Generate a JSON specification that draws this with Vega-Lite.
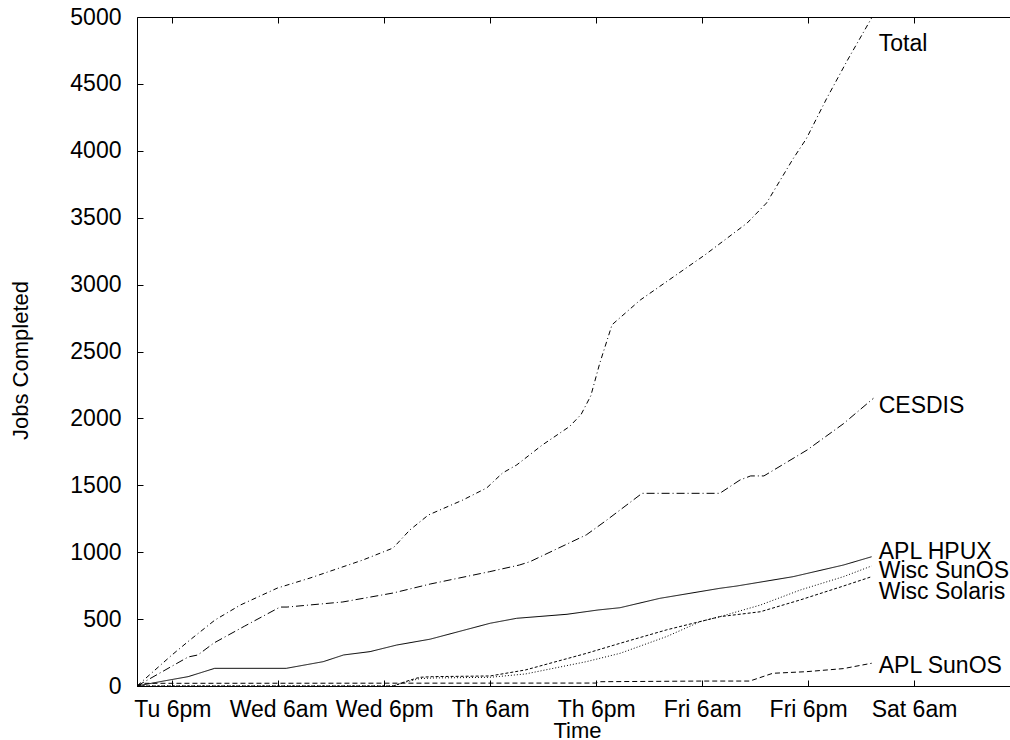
{
  "$schema": "https://vega.github.io/schema/vega-lite/v6.json",
  "width": 873,
  "height": 669,
  "autosize": {"type": "none"},
  "padding": {"left": 137, "top": 17, "right": 0, "bottom": 54},
  "background": "white",
  "config": {
    "view": {"stroke": null},
    "font": "Liberation Sans",
    "axis": {
      "domainColor": "#000",
      "tickColor": "#000",
      "labelColor": "#000",
      "titleColor": "#000",
      "labelFont": "Liberation Sans",
      "titleFont": "Liberation Sans",
      "labelFontSize": 23,
      "titleFontSize": 22,
      "titleFontWeight": "normal",
      "grid": false,
      "tickSize": -6,
      "domainWidth": 1,
      "tickWidth": 1
    }
  },
  "datasets": {
    "series": [
      {"series": "Total", "t": 0, "jobs": 0},
      {"series": "Total", "t": 3.96, "jobs": 232},
      {"series": "Total", "t": 6.0, "jobs": 344},
      {"series": "Total", "t": 8.83, "jobs": 493},
      {"series": "Total", "t": 11.7, "jobs": 605},
      {"series": "Total", "t": 15.9, "jobs": 732},
      {"series": "Total", "t": 19.6, "jobs": 807},
      {"series": "Total", "t": 25.6, "jobs": 942},
      {"series": "Total", "t": 29.0, "jobs": 1031},
      {"series": "Total", "t": 30.9, "jobs": 1166},
      {"series": "Total", "t": 33.0, "jobs": 1278},
      {"series": "Total", "t": 36.9, "jobs": 1390},
      {"series": "Total", "t": 39.6, "jobs": 1480},
      {"series": "Total", "t": 41.4, "jobs": 1592},
      {"series": "Total", "t": 43.0, "jobs": 1652},
      {"series": "Total", "t": 45.9, "jobs": 1801},
      {"series": "Total", "t": 49.0, "jobs": 1940},
      {"series": "Total", "t": 50.3, "jobs": 2030},
      {"series": "Total", "t": 51.4, "jobs": 2170},
      {"series": "Total", "t": 52.4, "jobs": 2410},
      {"series": "Total", "t": 53.8, "jobs": 2700},
      {"series": "Total", "t": 57.0, "jobs": 2885},
      {"series": "Total", "t": 64.3, "jobs": 3221},
      {"series": "Total", "t": 69.1, "jobs": 3460},
      {"series": "Total", "t": 71.3, "jobs": 3610},
      {"series": "Total", "t": 74.3, "jobs": 3940},
      {"series": "Total", "t": 75.8, "jobs": 4090},
      {"series": "Total", "t": 78.1, "jobs": 4390},
      {"series": "Total", "t": 80.4, "jobs": 4670},
      {"series": "Total", "t": 83.2, "jobs": 4993},

      {"series": "CESDIS", "t": 0, "jobs": 0},
      {"series": "CESDIS", "t": 5.8, "jobs": 217},
      {"series": "CESDIS", "t": 6.9, "jobs": 232},
      {"series": "CESDIS", "t": 8.7, "jobs": 321},
      {"series": "CESDIS", "t": 12.2, "jobs": 448},
      {"series": "CESDIS", "t": 16.2, "jobs": 590},
      {"series": "CESDIS", "t": 17.0, "jobs": 590},
      {"series": "CESDIS", "t": 23.3, "jobs": 628},
      {"series": "CESDIS", "t": 29.0, "jobs": 695},
      {"series": "CESDIS", "t": 33.2, "jobs": 762},
      {"series": "CESDIS", "t": 39.9, "jobs": 854},
      {"series": "CESDIS", "t": 43.3, "jobs": 904},
      {"series": "CESDIS", "t": 44.5, "jobs": 929},
      {"series": "CESDIS", "t": 50.9, "jobs": 1130},
      {"series": "CESDIS", "t": 53.2, "jobs": 1240},
      {"series": "CESDIS", "t": 57.2, "jobs": 1440},
      {"series": "CESDIS", "t": 66.0, "jobs": 1440},
      {"series": "CESDIS", "t": 68.3, "jobs": 1540},
      {"series": "CESDIS", "t": 69.5, "jobs": 1570},
      {"series": "CESDIS", "t": 71.0, "jobs": 1570},
      {"series": "CESDIS", "t": 75.9, "jobs": 1764},
      {"series": "CESDIS", "t": 80.0, "jobs": 1960},
      {"series": "CESDIS", "t": 83.4, "jobs": 2150},

      {"series": "APL HPUX", "t": 0, "jobs": 0},
      {"series": "APL HPUX", "t": 3.0, "jobs": 37},
      {"series": "APL HPUX", "t": 5.8, "jobs": 70},
      {"series": "APL HPUX", "t": 8.8, "jobs": 132},
      {"series": "APL HPUX", "t": 16.9, "jobs": 132},
      {"series": "APL HPUX", "t": 21.1, "jobs": 182},
      {"series": "APL HPUX", "t": 23.4, "jobs": 232},
      {"series": "APL HPUX", "t": 26.4, "jobs": 257},
      {"series": "APL HPUX", "t": 29.4, "jobs": 306},
      {"series": "APL HPUX", "t": 33.2, "jobs": 350},
      {"series": "APL HPUX", "t": 40.0, "jobs": 469},
      {"series": "APL HPUX", "t": 43.0, "jobs": 506},
      {"series": "APL HPUX", "t": 48.7, "jobs": 536},
      {"series": "APL HPUX", "t": 52.2, "jobs": 568},
      {"series": "APL HPUX", "t": 54.7, "jobs": 585},
      {"series": "APL HPUX", "t": 59.2, "jobs": 655},
      {"series": "APL HPUX", "t": 66.0, "jobs": 730},
      {"series": "APL HPUX", "t": 67.9, "jobs": 747},
      {"series": "APL HPUX", "t": 74.3, "jobs": 817},
      {"series": "APL HPUX", "t": 80.0, "jobs": 904},
      {"series": "APL HPUX", "t": 83.2, "jobs": 966},

      {"series": "Wisc SunOS", "t": 0, "jobs": 0},
      {"series": "Wisc SunOS", "t": 29.0, "jobs": 0},
      {"series": "Wisc SunOS", "t": 30.5, "jobs": 30},
      {"series": "Wisc SunOS", "t": 32.0, "jobs": 55},
      {"series": "Wisc SunOS", "t": 33.5, "jobs": 60},
      {"series": "Wisc SunOS", "t": 40.0, "jobs": 65},
      {"series": "Wisc SunOS", "t": 44.0, "jobs": 90},
      {"series": "Wisc SunOS", "t": 50.9, "jobs": 182},
      {"series": "Wisc SunOS", "t": 54.7, "jobs": 244},
      {"series": "Wisc SunOS", "t": 60.0, "jobs": 370},
      {"series": "Wisc SunOS", "t": 63.8, "jobs": 481},
      {"series": "Wisc SunOS", "t": 66.0, "jobs": 518},
      {"series": "Wisc SunOS", "t": 70.6, "jobs": 605},
      {"series": "Wisc SunOS", "t": 75.1, "jobs": 717},
      {"series": "Wisc SunOS", "t": 80.0, "jobs": 817},
      {"series": "Wisc SunOS", "t": 83.2, "jobs": 897},

      {"series": "Wisc Solaris", "t": 0, "jobs": 0},
      {"series": "Wisc Solaris", "t": 29.0, "jobs": 0},
      {"series": "Wisc Solaris", "t": 30.5, "jobs": 35},
      {"series": "Wisc Solaris", "t": 32.0, "jobs": 65},
      {"series": "Wisc Solaris", "t": 33.5, "jobs": 70},
      {"series": "Wisc Solaris", "t": 40.0, "jobs": 75},
      {"series": "Wisc Solaris", "t": 44.0, "jobs": 120},
      {"series": "Wisc Solaris", "t": 50.9, "jobs": 244},
      {"series": "Wisc Solaris", "t": 54.7, "jobs": 319},
      {"series": "Wisc Solaris", "t": 60.0, "jobs": 420},
      {"series": "Wisc Solaris", "t": 66.0, "jobs": 518},
      {"series": "Wisc Solaris", "t": 70.6, "jobs": 555},
      {"series": "Wisc Solaris", "t": 75.1, "jobs": 643},
      {"series": "Wisc Solaris", "t": 80.0, "jobs": 747},
      {"series": "Wisc Solaris", "t": 83.2, "jobs": 817},

      {"series": "APL SunOS", "t": 0, "jobs": 0},
      {"series": "APL SunOS", "t": 0.7, "jobs": 20},
      {"series": "APL SunOS", "t": 52.0, "jobs": 22},
      {"series": "APL SunOS", "t": 52.5, "jobs": 32},
      {"series": "APL SunOS", "t": 64.0, "jobs": 37},
      {"series": "APL SunOS", "t": 69.4, "jobs": 37},
      {"series": "APL SunOS", "t": 72.0, "jobs": 95},
      {"series": "APL SunOS", "t": 75.8, "jobs": 107},
      {"series": "APL SunOS", "t": 80.0, "jobs": 130},
      {"series": "APL SunOS", "t": 83.2, "jobs": 170}
    ],
    "labels": [
      {"label": "Total", "t": 84.0, "jobs": 4798},
      {"label": "CESDIS", "t": 84.0, "jobs": 2093},
      {"label": "APL HPUX", "t": 84.0, "jobs": 1005},
      {"label": "Wisc SunOS", "t": 84.0, "jobs": 856},
      {"label": "Wisc Solaris", "t": 84.0, "jobs": 706},
      {"label": "APL SunOS", "t": 84.0, "jobs": 153}
    ]
  },
  "layer": [
    {
      "data": {"name": "series"},
      "mark": {"type": "line", "strokeWidth": 1, "color": "#000"},
      "encoding": {
        "x": {
          "field": "t",
          "type": "quantitative",
          "scale": {"domain": [0, 98.87], "nice": false, "zero": false},
          "axis": {
            "values": [4, 16, 28, 40, 52, 64, 76, 88],
            "labelExpr": "['Tu 6pm','Wed 6am','Wed 6pm','Th 6am','Th 6pm','Fri 6am','Fri 6pm','Sat 6am'][round((datum.value-4)/12)]",
            "labelPadding": 18,
            "labelFlush": false,
            "title": "Time",
            "titleX": 440,
            "titleY": 51,
            "titleBaseline": "alphabetic",
            "titleAlign": "center"
          }
        },
        "y": {
          "field": "jobs",
          "type": "quantitative",
          "scale": {"domain": [0, 5000], "nice": false},
          "axis": {
            "values": [0, 500, 1000, 1500, 2000, 2500, 3000, 3500, 4000, 4500, 5000],
            "format": "d",
            "labelPadding": 22,
            "labelFlush": false,
            "title": "Jobs Completed",
            "titleX": -110,
            "titleY": 343,
            "titleAngle": -90,
            "titleBaseline": "alphabetic",
            "titleAlign": "center"
          }
        },
        "strokeDash": {
          "field": "series",
          "type": "nominal",
          "scale": {
            "domain": ["Total", "CESDIS", "APL HPUX", "Wisc SunOS", "Wisc Solaris", "APL SunOS"],
            "range": [[5, 3, 1, 3], [8, 3, 1, 3], [1, 0], [1, 2], [3, 2], [5, 3]]
          },
          "legend": null
        }
      }
    },
    {
      "data": {"name": "labels"},
      "mark": {"type": "text", "align": "left", "baseline": "middle", "fontSize": 23, "font": "Liberation Sans", "color": "#000"},
      "encoding": {
        "x": {
          "field": "t",
          "type": "quantitative",
          "axis": {
            "orient": "top",
            "values": [4, 16, 28, 40, 52, 64, 76, 88],
            "labels": false,
            "title": null
          }
        },
        "y": {
          "field": "jobs",
          "type": "quantitative",
          "axis": {
            "values": [0, 500, 1000, 1500, 2000, 2500, 3000, 3500, 4000, 4500, 5000],
            "format": "d",
            "labelPadding": 22,
            "labelFlush": false,
            "title": "Jobs Completed",
            "titleX": -110,
            "titleY": 343,
            "titleAngle": -90,
            "titleBaseline": "alphabetic",
            "titleAlign": "center"
          }
        },
        "text": {"field": "label"}
      }
    }
  ],
  "resolve": {"axis": {"x": "independent"}}
}
